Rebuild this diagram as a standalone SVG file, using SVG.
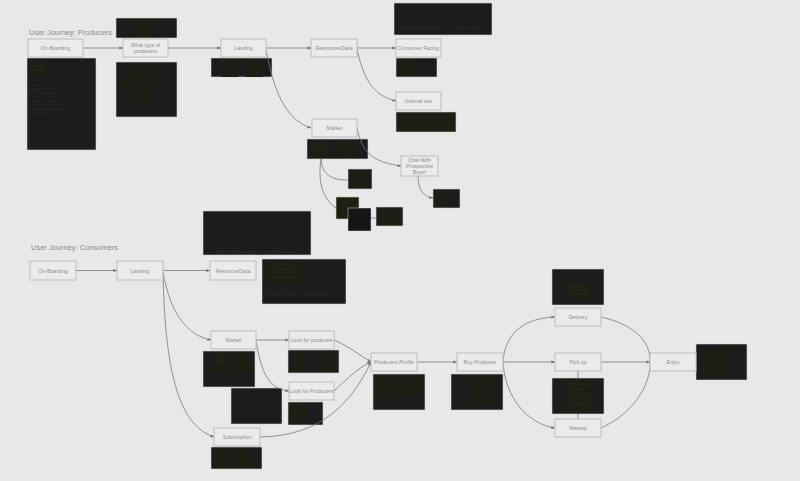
<svg xmlns="http://www.w3.org/2000/svg" width="800" height="481" viewBox="0 0 800 481">
<defs>
<marker id="ah" viewBox="0 0 6 6" refX="5.5" refY="3" markerWidth="5" markerHeight="5" orient="auto">
<path d="M0,0.8 L6,3 L0,5.2 Z" fill="#707070"/>
</marker>
<style>
.n rect{fill:#ebebeb;stroke:#bdbdbd;stroke-width:1}
.n text{font-family:"Liberation Sans",Arial,sans-serif;font-size:5.2px;fill:#8e8e8e;text-anchor:middle}
.d{fill:#1c1c1c;stroke:#cfcfcf;stroke-width:0.6}
.k{fill:#1f1e15}
.kt{font-family:"Liberation Sans",Arial,sans-serif;font-size:3.4px;fill:#2e2d1f;text-anchor:middle}
.bt{font-family:"Liberation Sans",Arial,sans-serif;font-size:6px;fill:#2a2a2a;text-anchor:middle}
.t{font-family:"Liberation Sans",Arial,sans-serif;font-size:7.5px;fill:#8a8a8a}
.c path,.c line{fill:none;stroke:#7a7a7a;stroke-width:0.8}
</style>
</defs>
<rect x="0" y="0" width="800" height="481" fill="#e8e8e8"/>

<text class="t" x="29" y="35">User Journey: Producers</text>
<text class="t" x="31" y="250">User Journey: Consumers</text>

<!-- notes / dark boxes -->
<g id="notes">
<rect class="d" x="27" y="58" width="69" height="92"/>
<rect class="k" x="29" y="60" width="18" height="17"/>
<text class="kt" x="38" y="67">Account</text><text class="kt" x="38" y="71">Creation</text>
<rect x="29" y="85" width="63" height="63" fill="none" stroke="#2c2c2c" stroke-width="0.6"/>
<g font-family="Liberation Sans,Arial,sans-serif" font-size="3.6" fill="#2e2e2e">
<text x="30" y="90">Producer Log-on</text>
<text x="30" y="94">A - Create account</text>
<text x="30" y="98">- Email</text>
<text x="30" y="102">- Access to location</text>
<text x="30" y="106">- First - Last Name</text>
<text x="30" y="110">- Company/Farm Name</text>
<text x="30" y="114">B - Sign in</text>
</g>

<rect class="d" x="116" y="18" width="61" height="20"/>
<rect class="k" x="135" y="19" width="18" height="18"/>
<rect class="d" x="116" y="62" width="61" height="55"/>
<rect class="k" x="123" y="65" width="19" height="20"/>
<rect class="k" x="145" y="65" width="19" height="20"/>
<rect class="k" x="133" y="87" width="20" height="20"/>

<rect class="d" x="211" y="58" width="61" height="19"/>
<rect class="k" x="221" y="59" width="17" height="18"/>
<rect class="k" x="245" y="59" width="18" height="18"/>

<rect class="d" x="394" y="3" width="98" height="32"/>
<text class="bt" x="443" y="30">what information go under here?</text>
<rect class="d" x="396" y="58" width="41" height="19"/>
<rect class="k" x="397" y="59" width="17" height="17"/>
<rect class="d" x="396" y="112" width="60" height="20"/>
<rect class="k" x="397" y="113" width="18" height="18"/>
<rect class="k" x="417" y="113" width="18" height="18"/>
<rect class="k" x="437" y="113" width="18" height="18"/>

<rect class="d" x="307" y="139" width="61" height="20"/>
<rect class="k" x="310" y="140" width="19" height="18"/>
<text class="kt" x="319.5" y="147">Sell</text><text class="kt" x="319.5" y="151">Produces</text>
<rect class="k" x="337" y="140" width="20" height="18"/>
<rect class="d" x="348" y="169" width="24" height="20"/>
<rect class="k" x="350" y="170" width="19" height="18"/>
<rect class="d" x="433" y="189" width="27" height="19"/>
<rect class="k" x="434" y="190" width="17" height="17"/>
<rect x="336" y="197" width="23" height="22" fill="#1f1e15" stroke="#d8d48a" stroke-width="0.6"/>
<rect x="348" y="208" width="23" height="23" fill="#151515" stroke="#cfcfcf" stroke-width="0.5"/>
<rect class="d" x="376" y="207" width="27" height="19"/>
<rect class="k" x="378" y="208" width="22" height="17"/>

<rect class="d" x="203" y="211" width="108" height="44"/>
<text class="bt" x="258" y="254">what information go under here?</text>

<rect class="d" x="262" y="259" width="84" height="45"/>
<rect class="k" x="265" y="261" width="38" height="24"/>
<text class="kt" x="284" y="266">What will be the</text>
<text class="kt" x="284" y="270">next step for</text>
<text class="kt" x="284" y="274">consumers after</text>
<text class="kt" x="284" y="278">seeing the data?</text>
<text x="264" y="295" font-family="Liberation Sans,Arial,sans-serif" font-size="6" fill="#2a2a2a">Provide recommendation?</text>

<rect class="d" x="203" y="351" width="52" height="36"/>
<rect class="k" x="211" y="352" width="17" height="18"/>
<text class="kt" x="219.5" y="359">Buy</text><text class="kt" x="219.5" y="363">Produces</text>
<rect class="k" x="236" y="352" width="18" height="18"/>
<rect class="d" x="231" y="388" width="51" height="36"/>
<rect class="d" x="288" y="350" width="51" height="23"/>
<rect class="k" x="290" y="351" width="17" height="21"/>
<rect class="k" x="319" y="351" width="18" height="21"/>
<rect class="d" x="288" y="402" width="35" height="23"/>
<rect class="k" x="290" y="403" width="17" height="18"/>
<rect class="d" x="211" y="447" width="51" height="22"/>
<rect class="k" x="213" y="448" width="18" height="20"/>
<rect class="k" x="236" y="448" width="18" height="20"/>

<rect class="d" x="373" y="374" width="52" height="36"/>
<rect class="k" x="375" y="375" width="23" height="22"/>
<rect class="k" x="400" y="375" width="23" height="22"/>
<rect class="d" x="451" y="374" width="52" height="36"/>
<rect class="k" x="466" y="375" width="29" height="28"/>

<rect class="d" x="552" y="269" width="52" height="36"/>
<rect class="k" x="566" y="282" width="24" height="18"/>
<text class="kt" x="578" y="287">Integrate 3rd</text>
<text class="kt" x="578" y="291">Party to carry</text>
<text class="kt" x="578" y="295">out delivery</text>
<rect class="d" x="552" y="378" width="52" height="36"/>
<rect class="k" x="564" y="379" width="29" height="33"/>
<text class="kt" x="578.5" y="385">Producer sets</text>
<text class="kt" x="578.5" y="390">possible</text>
<text class="kt" x="578.5" y="395">locations to</text>
<text class="kt" x="578.5" y="400">pick from as</text>
<text class="kt" x="578.5" y="405">well as times</text>

<rect class="d" x="696" y="344" width="51" height="36"/>
<rect class="k" x="701" y="348" width="30" height="28"/>
</g>

<!-- connectors -->
<g id="connectors" class="c">
<line x1="83" y1="48" x2="123" y2="48" marker-end="url(#ah)"/>
<line x1="168" y1="48" x2="221" y2="48" marker-end="url(#ah)"/>
<line x1="266" y1="48" x2="311" y2="48" marker-end="url(#ah)"/>
<line x1="357" y1="48" x2="396" y2="48" marker-end="url(#ah)"/>
<path d="M357,49 C364,82 375,96 396,101" marker-end="url(#ah)"/>
<path d="M266,49 C275,100 290,121 311,128" marker-end="url(#ah)"/>
<path d="M357,128 C362,152 372,162 401,166" marker-end="url(#ah)"/>
<path d="M418,176 C418,190 424,197 433,198" marker-end="url(#ah)"/>
<path d="M321,159 C322,174 330,180 348,180"/>
<path d="M321,159 C317,186 325,200 336,208"/>
<line x1="371" y1="218" x2="376" y2="218"/>

<line x1="76" y1="270.5" x2="117" y2="270.5" marker-end="url(#ah)"/>
<line x1="163" y1="270.5" x2="210" y2="270.5" marker-end="url(#ah)"/>
<path d="M163,272 C170,312 186,335 211,340" marker-end="url(#ah)"/>
<path d="M163,272 C165,382 182,426 214,437" marker-end="url(#ah)"/>
<line x1="256" y1="340" x2="289" y2="340" marker-end="url(#ah)"/>
<path d="M256,341 C262,376 270,389 289,391" marker-end="url(#ah)"/>
<path d="M334,340 C350,347 361,356 371,362" marker-end="url(#ah)"/>
<path d="M334,391 C346,380 359,367 371,362" marker-end="url(#ah)"/>
<path d="M260,437 C322,436 352,402 371,362" marker-end="url(#ah)"/>
<line x1="417" y1="362" x2="457" y2="362" marker-end="url(#ah)"/>
<line x1="503" y1="362" x2="555" y2="362" marker-end="url(#ah)"/>
<path d="M503,362 C505,330 528,318 555,317" marker-end="url(#ah)"/>
<path d="M503,362 C505,398 528,424 555,428" marker-end="url(#ah)"/>
<line x1="601" y1="362" x2="650" y2="362" marker-end="url(#ah)"/>
<path d="M601,317 C632,324 651,340 650,362"/>
<path d="M601,428 C632,414 651,386 650,362"/>
<line x1="578" y1="371" x2="578" y2="378"/>
<line x1="578" y1="414" x2="578" y2="419"/>
</g>

<!-- producer nodes -->
<g id="p-onboarding" class="n"><rect x="28" y="39" width="55" height="18"/><text x="55.5" y="50">On-Boarding</text></g>
<g id="p-type" class="n"><rect x="123" y="39" width="45" height="18"/><text x="145.5" y="46.5">What type of</text><text x="145.5" y="53">producers</text></g>
<g id="p-landing" class="n"><rect x="221" y="39" width="45" height="18"/><text x="243.5" y="50">Landing</text></g>
<g id="p-resources" class="n"><rect x="311" y="39" width="46" height="18"/><text x="334" y="50">Resources/Data</text></g>
<g id="p-consumer" class="n"><rect x="396" y="39" width="45" height="18"/><text x="418.5" y="50">Consumer Facing</text></g>
<g id="p-internal" class="n"><rect x="396" y="92" width="45" height="18"/><text x="418.5" y="103">Internal use</text></g>
<g id="p-market" class="n"><rect x="312" y="119" width="45" height="18"/><text x="334.5" y="130">Market</text></g>
<g id="p-chat" class="n"><rect x="401" y="156" width="37" height="20"/><text x="419.5" y="162">Chat With</text><text x="419.5" y="168">Prospective</text><text x="419.5" y="174">Buyer</text></g>

<!-- consumer nodes -->
<g id="c-onboarding" class="n"><rect x="30" y="261" width="46" height="19"/><text x="53" y="272.5">On-Boarding</text></g>
<g id="c-landing" class="n"><rect x="117" y="261" width="46" height="19"/><text x="140" y="272.5">Landing</text></g>
<g id="c-resource" class="n"><rect x="210" y="261" width="46" height="19"/><text x="233" y="272.5">Resource/Data</text></g>
<g id="c-market" class="n"><rect x="211" y="331" width="45" height="18"/><text x="233.5" y="342">Market</text></g>
<g id="c-lookproduces" class="n"><rect x="289" y="331" width="45" height="18"/><text x="311.5" y="342">Look for produces</text></g>
<g id="c-lookproducers" class="n"><rect x="289" y="382" width="45" height="18"/><text x="311.5" y="393">Look for Producers</text></g>
<g id="c-subscription" class="n"><rect x="214" y="428" width="46" height="18"/><text x="237" y="439">Subscription</text></g>
<g id="c-profile" class="n"><rect x="371" y="353" width="46" height="18"/><text x="394" y="364">Producers Profile</text></g>
<g id="c-buy" class="n"><rect x="457" y="353" width="46" height="18"/><text x="480" y="364">Buy Produces</text></g>
<g id="c-delivery" class="n"><rect x="555" y="308" width="46" height="18"/><text x="578" y="319">Delivery</text></g>
<g id="c-pickup" class="n"><rect x="555" y="353" width="46" height="18"/><text x="578" y="364">Pick up</text></g>
<g id="c-meetup" class="n"><rect x="555" y="419" width="46" height="18"/><text x="578" y="430">Meetup</text></g>
<g id="c-enjoy" class="n"><rect x="650" y="353" width="46" height="18"/><text x="673" y="364">Enjoy</text></g>
</svg>
